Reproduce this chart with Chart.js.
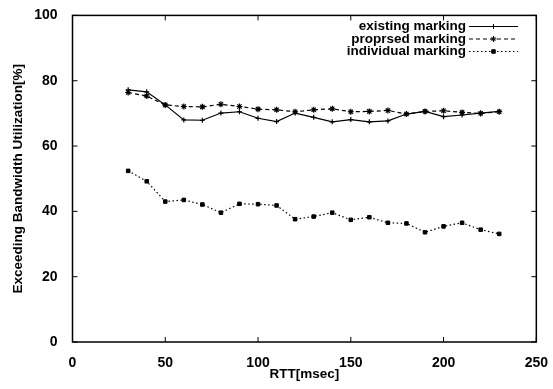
<!DOCTYPE html>
<html>
<head>
<meta charset="utf-8">
<script src="https://cdn.jsdelivr.net/npm/chart.js@4/dist/chart.umd.min.js"></script>
<style>
  html, body { margin: 0; padding: 0; background: #fff; }
  #wrap { width: 553px; height: 389px; position: relative; }
</style>
</head>
<body>
<div id="wrap"><canvas id="chart"></canvas></div>
<script>
// RTT [msec]
const rtt = [30, 40, 50, 60, 70, 80, 90, 100, 110, 120, 130, 140, 150, 160, 170, 180, 190, 200, 210, 220, 230];

const existingMarking = [77.2, 76.6, 72.6, 68.0, 67.9, 70.1, 70.5, 68.5, 67.5, 70.1, 68.8,
  67.4, 68.1, 67.4, 67.7, 69.8, 70.6, 69.0, 69.5, 70.1, 70.6];
const proposedMarking = [76.4, 75.3, 72.6, 72.1, 72.0, 72.8, 72.1, 71.3, 71.1, 70.5, 71.1,
  71.4, 70.5, 70.6, 70.9, 69.8, 70.6, 70.8, 70.3, 70.0, 70.5];
const individualMarking = [52.4, 49.2, 43.0, 43.5, 42.1, 39.6, 42.3, 42.2, 41.8, 37.6, 38.4,
  39.6, 37.4, 38.2, 36.5, 36.3, 33.6, 35.4, 36.5, 34.4, 33.1];

const xTicks = [0, 50, 100, 150, 200, 250];
const yTicks = [0, 20, 40, 60, 80, 100];

const FONT = '"Liberation Sans", Arial, Helvetica, sans-serif';

function series(label, values, style) {
  return Object.assign({
    label,
    data: rtt.map((x, i) => ({ x, y: values[i] })),
    borderColor: '#000',
    backgroundColor: '#000',
    pointBorderColor: '#000',
    pointBackgroundColor: '#000',
    borderWidth: 1.2,
    showLine: true,
    tension: 0,
  }, style);
}

const datasets = [
  series('existing marking', existingMarking, { pointStyle: 'cross', pointRadius: 2.5, pointBorderWidth: 1.2 }),
  series('proprsed marking', proposedMarking, { pointStyle: 'star', pointRadius: 3, pointBorderWidth: 1.2, borderDash: [4, 3] }),
  series('individual marking', individualMarking, { pointStyle: 'rect', pointRadius: 2.5, pointBorderWidth: 1, borderDash: [1.5, 2.5] }),
];

// gnuplot風の枠と内向きの目盛り、凡例
const framePlugin = {
  id: 'frame',
  afterDraw(chart) {
    const { ctx, chartArea: a, scales: { x, y } } = chart;
    ctx.save();
    ctx.strokeStyle = '#000';
    ctx.lineWidth = 1.5;
    ctx.strokeRect(a.left, a.top, a.right - a.left, a.bottom - a.top);
    ctx.lineWidth = 1;
    const len = 5;
    ctx.beginPath();
    xTicks.forEach(v => {
      const px = x.getPixelForValue(v);
      ctx.moveTo(px, a.bottom); ctx.lineTo(px, a.bottom - len);
      ctx.moveTo(px, a.top); ctx.lineTo(px, a.top + len);
    });
    yTicks.forEach(v => {
      const py = y.getPixelForValue(v);
      ctx.moveTo(a.left, py); ctx.lineTo(a.left + len, py);
      ctx.moveTo(a.right, py); ctx.lineTo(a.right - len, py);
    });
    ctx.stroke();

    // 凡例
    ctx.font = 'bold 13.5px ' + FONT;
    ctx.fillStyle = '#000';
    ctx.textAlign = 'right';
    ctx.textBaseline = 'middle';
    const textRight = 466, x0 = 469, x1 = 518, rowTop = 26.5, rowGap = 12.5;
    chart.data.datasets.forEach((ds, i) => {
      const ry = rowTop + i * rowGap;
      ctx.fillText(ds.label, textRight, ry);
      ctx.save();
      ctx.lineWidth = 1;
      ctx.setLineDash(ds.borderDash || []);
      ctx.beginPath();
      ctx.moveTo(x0, ry); ctx.lineTo(x1, ry);
      ctx.stroke();
      ctx.restore();
      Chart.helpers.drawPoint(ctx, {
        pointStyle: ds.pointStyle, radius: ds.pointRadius, borderWidth: ds.pointBorderWidth, rotation: 0
      }, (x0 + x1) / 2, ry);
    });
    ctx.restore();
  }
};

new Chart(document.getElementById('chart'), {
  type: 'scatter',
  data: { datasets },
  options: {
    responsive: true,
    maintainAspectRatio: false,
    animation: false,
    layout: { padding: { left: 0, right: 16, top: 14, bottom: 0 } },
    plugins: { legend: { display: false }, tooltip: { enabled: false } },
    scales: {
      x: {
        type: 'linear',
        min: 0, max: 250,
        afterBuildTicks(scale) { scale.ticks = xTicks.map(v => ({ value: v })); },
        afterFit(scale) { scale.height = 47; },
        grid: { display: false },
        border: { display: false },
        ticks: { color: '#000', padding: 5, maxRotation: 0, font: { family: FONT, size: 14, weight: 'bold' } },
        title: {
          display: true, text: 'RTT[msec]', color: '#000',
          padding: { top: 0, bottom: 7 },
          font: { family: FONT, size: 13.5, weight: 'bold' }
        }
      },
      y: {
        type: 'linear',
        min: 0, max: 100,
        afterBuildTicks(scale) { scale.ticks = yTicks.map(v => ({ value: v })); },
        afterFit(scale) { scale.width = 72.5; },
        grid: { display: false },
        border: { display: false },
        ticks: { color: '#000', padding: 7, font: { family: FONT, size: 14, weight: 'bold' } },
        title: {
          display: true, text: 'Exceeding Bandwidth Utilization[%]', color: '#000',
          padding: { top: 10, bottom: 0 },
          font: { family: FONT, size: 13.5, weight: 'bold' }
        }
      }
    }
  },
  plugins: [framePlugin]
});
</script>
</body>
</html>
